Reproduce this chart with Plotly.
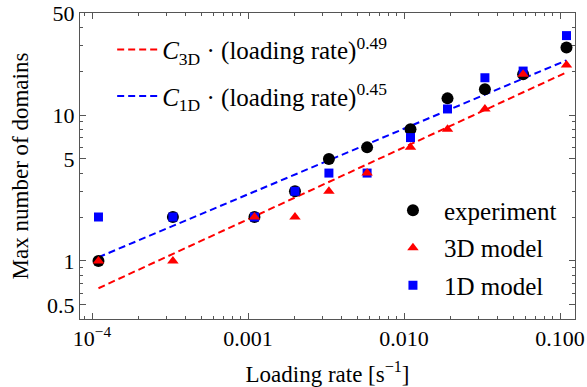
import plotly.graph_objects as go

# ---- data ----
rate = [1.1e-4, 3.3e-4, 1.1e-3, 2.0e-3, 3.3e-3, 5.8e-3, 0.011, 0.019, 0.033, 0.058, 0.11]
experiment = [1, 2, 2, 3, 5, 6, 8, 13, 15, 19, 29]
model_3d = [1, 1, 2, 2, 3, 4, 6, 8, 11, 19, 22]
model_1d = [2, 2, 2, 3, 4, 4, 7, 11, 18, 20, 35]

fit_rate = [1.1e-4, 0.11]
fit_3d = [0.65, 19.6]
fit_1d = [1.06, 23.7]

x_tickvals = [1e-4, 1e-3, 1e-2, 1e-1]
x_ticktext = ["10<sup>\u22124</sup>", "0.001", "0.010", "0.100"]
y_tickvals = [0.5, 1, 5, 10, 50]
y_ticktext = ["0.5", "1", "5", "10", "50"]

x_minor = [9e-5] + [m * 10.0 ** e for e in (-4, -3, -2) for m in range(2, 10)]
y_minor = [0.4, 0.6, 0.7, 0.8, 0.9, 2, 3, 4, 6, 7, 8, 9, 20, 30, 40]

FONT = "'Liberation Serif', 'Times New Roman', serif"

fig = go.Figure()

fig.add_trace(go.Scatter(
    x=fit_rate, y=fit_3d, mode="lines",
    line=dict(color="#ff0000", width=2, dash="7px,4px"),
    name="<i>C</i><sub>3D</sub> \u00b7 (loading rate)<sup>0.49</sup>",
    legend="legend", legendgroup="a"))
fig.add_trace(go.Scatter(
    x=fit_rate, y=fit_1d, mode="lines",
    line=dict(color="#0000ff", width=2, dash="7px,4px"),
    name="<i>C</i><sub>1D</sub> \u00b7 (loading rate)<sup>0.45</sup>",
    legend="legend", legendgroup="b"))

fig.add_trace(go.Scatter(
    x=rate, y=experiment, mode="markers",
    marker=dict(symbol="circle", size=12, color="black"),
    name="experiment", legend="legend2", legendgroup="c", legendrank=1))
fig.add_trace(go.Scatter(
    x=rate, y=model_1d, mode="markers",
    marker=dict(symbol="square", size=9, color="#0000ff"),
    name="1D model", legend="legend2", legendgroup="e", legendrank=3))
fig.add_trace(go.Scatter(
    x=rate, y=model_3d, mode="markers",
    marker=dict(symbol="triangle-up", size=10, color="#ff0000"),
    name="3D model", legend="legend2", legendgroup="d", legendrank=2))

axis_common = dict(
    type="log", showline=True, linecolor="#555555", linewidth=1,
    mirror="allticks", ticks="inside", ticklen=6, tickcolor="#555555",
    showgrid=False, zeroline=False, automargin=False,
    tickfont=dict(family=FONT, size=22, color="black"),
)

fig.update_xaxes(
    **axis_common,
    range=[-4.077, -0.904],
    tickmode="array", tickvals=x_tickvals, ticktext=x_ticktext,
    minor=dict(ticks="inside", ticklen=3, tickcolor="#555555",
               tickmode="array", tickvals=x_minor, showgrid=False),
    title=dict(text="Loading rate [s<sup>\u22121</sup>]",
               font=dict(family=FONT, size=23, color="black"), standoff=16),
)
fig.update_yaxes(
    **axis_common,
    range=[-0.398, 1.699],
    tickmode="array", tickvals=y_tickvals, ticktext=y_ticktext,
    minor=dict(ticks="inside", ticklen=3, tickcolor="#555555",
               tickmode="array", tickvals=y_minor, showgrid=False),
    title=dict(text="Max number of domains",
               font=dict(family=FONT, size=23, color="black"), standoff=12),
)

fig.update_layout(
    width=587, height=387,
    margin=dict(l=80, r=12, t=13, b=68, autoexpand=False),
    paper_bgcolor="white", plot_bgcolor="white",
    font=dict(family=FONT, color="black"),
    showlegend=True,
    legend=dict(x=0.065, y=0.955, xanchor="left", yanchor="top",
                bgcolor="rgba(0,0,0,0)", font=dict(family=FONT, size=25),
                tracegroupgap=11, itemwidth=40),
    legend2=dict(x=0.610, y=0.43, xanchor="left", yanchor="top",
                 bgcolor="rgba(0,0,0,0)", font=dict(family=FONT, size=25),
                 tracegroupgap=2, itemwidth=52),
)

fig.write_html("out.html")
